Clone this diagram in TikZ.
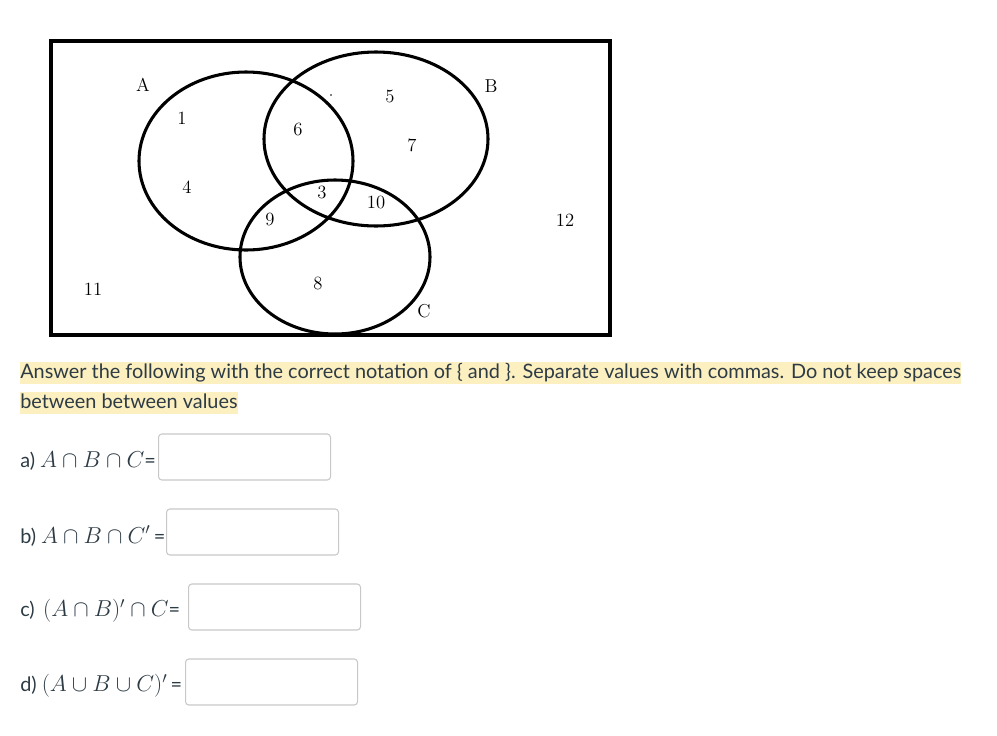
\documentclass[tikz,border=0pt]{standalone}
\usepackage{fontspec}
\newfontfamily\lato{Lato}
\definecolor{hl}{HTML}{FCEFC0}
\definecolor{boxgray}{HTML}{C8C8C8}
\definecolor{ink}{HTML}{2D3B45}
\newcommand{\qmath}[1]{{\fontsize{17.5}{20}\selectfont$#1$}}
\begin{document}
\begin{tikzpicture}[x=0.75pt,y=-0.75pt,
  setc/.style={line width=2.3pt},
  num/.style={font=\fontsize{14}{16}\selectfont, inner sep=0pt},
  hline/.style={fill=hl, text=ink, inner sep=0pt, anchor=west, text height=12pt, text depth=4pt, font=\lato\fontsize{14.9}{17}\selectfont},
  item/.style={anchor=west, text=ink, inner sep=0pt, font=\lato\fontsize{14.9}{17}\selectfont},
  ansbox/.style={draw=boxgray, line width=0.8pt, rounded corners=2.5pt, anchor=west, minimum width=129pt, minimum height=34.5pt, inner sep=0pt}]
\useasboundingbox (0,0) rectangle (997,736);
% universe
\draw[line width=2.6pt] (51,41) rectangle (610,335);
% sets
\draw[setc] (246,161) ellipse [x radius=107, y radius=89];
\draw[setc] (376,139) ellipse [x radius=112, y radius=87];
\draw[setc] (335,257) ellipse [x radius=95, y radius=77];
% labels
\node[num] (lA) at (143,85) {A};
\node[num] (lB) at (491,86) {B};
\node[num] (lC) at (424,311) {C};
\node[num] (n1) at (182,118) {1};
\node[num] (n4) at (187,187) {4};
\node[num] (n6) at (298,129) {6};
\node[num] (n5) at (390,96) {5};
\node[num] (n7) at (412,145) {7};
\node[num] (n3) at (322,192) {3};
\node[num] (n10) at (376,202) {10};
\node[num] (n9) at (270,219) {9};
\node[num] (n8) at (318,283) {8};
\node[num] (n12) at (565,220) {12};
\node[num] (n11) at (93,289) {11};
\fill (331,95) circle (0.6pt);
% instructions
\node[hline] (t1) at (20,373) {Answer the following with the correct notation of \{ and \}. Separate values with commas. Do not keep spaces};
\node[hline] (t2) at (20,403) {between between values};
% questions
\node[item] (qa) at (20,461) {a) \qmath{A\cap B\cap C}=};
\node[ansbox] (ba) at (158,457) {};
\node[item] (qb) at (20,536) {b) \qmath{A\cap B\cap C'}\,=};
\node[ansbox] (bb) at (166,532) {};
\node[item] (qc) at (20,611) {c)\, \qmath{(A\cap B)'\cap C}=};
\node[ansbox] (bc) at (188,607) {};
\node[item] (qd) at (20,686) {d) \qmath{(A\cup B\cup C)'}\,=};
\node[ansbox] (bd) at (185,682) {};
\end{tikzpicture}
\end{document}
